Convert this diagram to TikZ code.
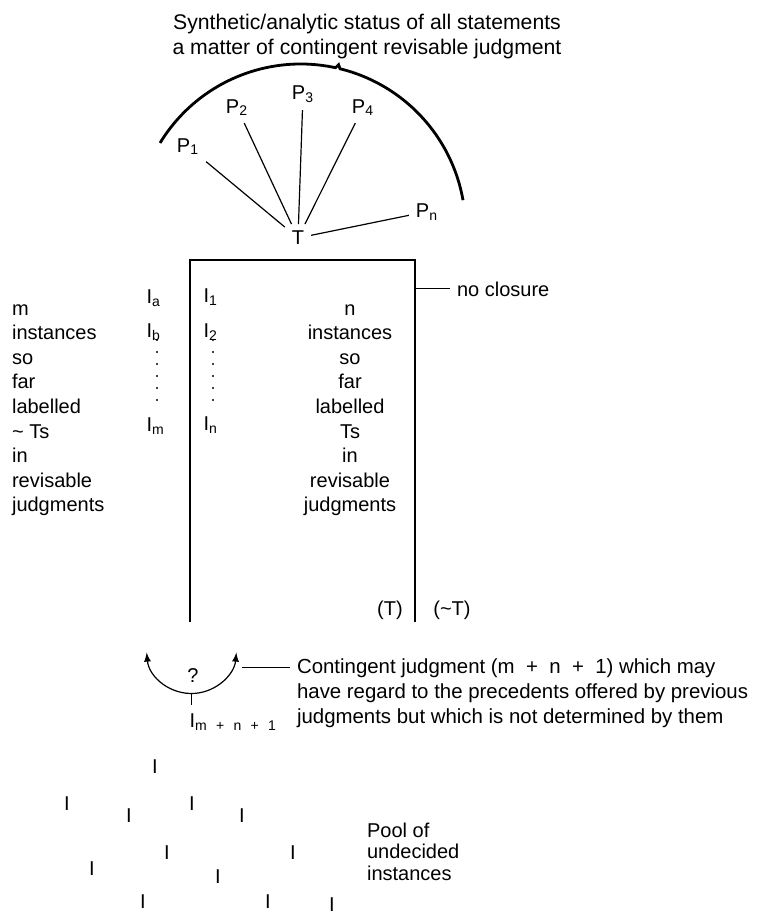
\documentclass[tikz,border=0pt]{standalone}
\usepackage{fontspec}
\setmainfont{Liberation Sans}
\usetikzlibrary{calc}
\tikzset{>=latex}
\tikzset{
  thinline/.style={line width=0.6pt},
  boxline/.style={line width=1pt},
  bowline/.style={line width=1.4pt},
  wide/.style={font=\fontsize{10.6}{12}\selectfont},
  remark/.style={font=\fontsize{10.2}{12}\selectfont},
}
\begin{document}
\begin{tikzpicture}[x=0.5pt,y=-0.5pt]
  \useasboundingbox (0,0) rectangle (760,915);

  % heading
  \node[anchor=base,wide] (head1) at (367,30) {Synthetic/analytic status of all statements};
  \node[anchor=base,wide] (head2) at (367,55) {a matter of contingent revisable judgment};

  % propositions round T
  \node (T) at (298,238) {T};
  \node[anchor=base] (P1) at (188,152) {P\textsubscript{1}};
  \node[anchor=base] (P2) at (237,113) {P\textsubscript{2}};
  \node[anchor=base] (P3) at (303,100) {P\textsubscript{3}};
  \node[anchor=base] (P4) at (363,113) {P\textsubscript{4}};
  \node[anchor=base] (Pn) at (427,217) {P\textsubscript{n}};
  \foreach \p in {P1,P2,P3,P4,Pn}
    \draw[thinline] (\p) -- (T);

  % the bow over the propositions
  \coordinate (bowc) at (300.7,228.8);
  \draw[bowline] (bowc) ++(148.6:82.4pt) arc[start angle=148.6, end angle=77.8, radius=82.4pt]
    -- ($(bowc)+(77:84.2pt)$) -- ($(bowc)+(76.2:82.4pt)$)
    arc[start angle=76.2, end angle=10, radius=82.4pt];

  % open box
  \coordinate (boxBL) at (190,622);
  \coordinate (boxTL) at (190,260);
  \coordinate (boxTR) at (415,260);
  \coordinate (boxBR) at (415,622);
  \draw[boxline] (boxBL) -- (boxTL) -- (boxTR) -- (boxBR);

  \node[anchor=base west] (noclo) at (450,296) {no closure};
  \draw[thinline] (boxTR |- noclo.west) -- (noclo.west);

  % instances so far
  \node[anchor=base west] (Ia) at (139.5,303) {I\textsubscript{a}};
  \node[anchor=base west] (Ib) at (139.5,337) {I\textsubscript{b}};
  \node[anchor=base west] (Im) at (139.5,431) {I\textsubscript{m}};
  \node[anchor=base west] (I1) at (196.5,302) {I\textsubscript{1}};
  \node[anchor=base west] (I2) at (196.5,337) {I\textsubscript{2}};
  \node[anchor=base west] (In) at (196.5,430) {I\textsubscript{n}};
  \foreach \y in {340,352,...,400}
    {\fill (157,\y) circle (0.6pt);
     \fill (213,\y) circle (0.6pt);}

  \foreach \w [count=\i from 0] in {m,instances,so,far,labelled,{\textasciitilde\ Ts},in,revisable,judgments}
    \node[anchor=base west] (lw\i) at (5,315+24.6*\i) {\w};
  \foreach \w [count=\i from 0] in {n,instances,so,far,labelled,Ts,in,revisable,judgments}
    \node[anchor=base] (rw\i) at (350,315+24.6*\i) {\w};

  \node[anchor=base] (inT) at (390,615) {(T)};
  \node[anchor=base] (outT) at (452,615) {(\textasciitilde T)};

  % next judgment
  \coordinate (nextc) at (191.5,648.5);
  \draw[<->,thinline] (nextc) ++(185:22.5pt) arc[start angle=185, end angle=355, radius=22.5pt];
  \node[anchor=base] (query) at (193,682) {?};
  \draw[thinline] ($(nextc)+(0,45)$) -- ++(0,11);
  \node[anchor=base west] (Inext) at (182.5,727) {I\textsubscript{m\enspace\,+\enspace\,n\enspace\,+\enspace\,1}};

  \node[anchor=base west,remark] (cont1) at (290,673) {Contingent judgment (m\ \ +\ \ n\ \ +\ \ 1) which may};
  \node[anchor=base west,remark] (cont2) at ([yshift=-12.5pt]cont1.base west) {have regard to the precedents offered by previous};
  \node[anchor=base west,remark] (cont3) at ([yshift=-12.5pt]cont2.base west) {judgments but which is not determined by them};
  \coordinate (nextR) at (242,667);
  \draw[thinline] (cont1.west -| nextR) -- (cont1.west);

  % pool of undecided instances
  \foreach \x/\y [count=\i] in {155/767,67/804,129/816,192/804,242/816,167/853,
                                293/853,92/869,218/877,143/902,268/902,332/905}
    \node (pool\i) at (\x,\y) {I};
  \node[anchor=base west] (pool1t) at (360,837) {Pool of};
  \node[anchor=base west] (pool2t) at (360,858.5) {undecided};
  \node[anchor=base west] (pool3t) at (360,880) {instances};
\end{tikzpicture}
\end{document}
